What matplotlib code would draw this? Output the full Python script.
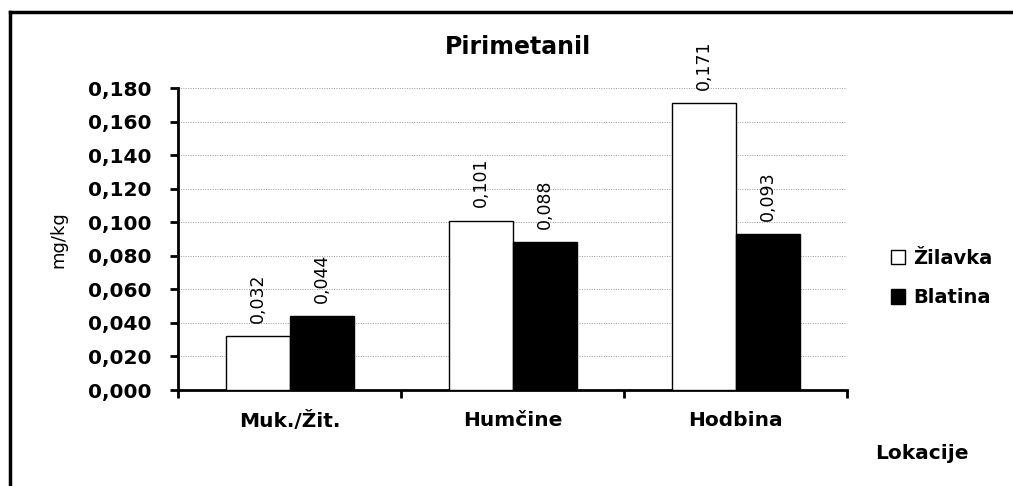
import matplotlib.pyplot as plt
import numpy as np
from matplotlib.lines import Line2D
from matplotlib.ticker import FuncFormatter

plt.rcParams['font.family'] = ['DejaVu Sans']

locations = ['Muk./Žit.', 'Humčine', 'Hodbina']
zilavka = [0.032, 0.101, 0.171]
blatina = [0.044, 0.088, 0.093]
series_names = ['Žilavka', 'Blatina']
yticks = np.arange(0, 0.181, 0.02)

W, H = 1013, 486
fig = plt.figure(figsize=(W / 100, H / 100), dpi=100)
ax = fig.add_axes([178 / W, 1 - 390 / H, (847 - 178) / W, (390 - 88) / H])

x = np.arange(len(locations))
bw = 64 / 223
b1 = ax.bar(x - bw / 2, zilavka, bw, color='white', edgecolor='black', linewidth=1, zorder=3)
b2 = ax.bar(x + bw / 2, blatina, bw, color='black', edgecolor='black', linewidth=1, zorder=3)

for bars, vals in ((b1, zilavka), (b2, blatina)):
    for r, v in zip(bars, vals):
        ax.text(r.get_x() + r.get_width() / 2, v + 0.008, ('%.3f' % v).replace('.', ','),
                rotation=90, ha='center', va='bottom', fontsize=12.5)

ax.set_xlim(-0.5, 2.5)
ax.set_ylim(0, 0.18)
ax.set_yticks(yticks)
ax.yaxis.set_major_formatter(FuncFormatter(lambda v, p: ('%.3f' % v).replace('.', ',')))
ax.set_xticks(x)
ax.set_xticklabels(locations, fontsize=14.5, fontweight='bold')
ax.set_xticks([-0.5, 0.5, 1.5, 2.5], minor=True)
ax.tick_params(axis='x', which='major', length=0, pad=15)
ax.tick_params(axis='x', which='minor', length=6, width=2, direction='out')
ax.tick_params(axis='y', length=6, width=2, direction='out', labelsize=14.5, pad=13)
for lab in ax.get_yticklabels():
    lab.set_fontweight('bold')
ax.grid(axis='y', linestyle=(0, (1, 1.5)), color='#999999', linewidth=0.7, zorder=0)
for s in ['top', 'right']:
    ax.spines[s].set_visible(False)
ax.spines['left'].set_linewidth(2)
ax.spines['bottom'].set_linewidth(2)

fig.text(518 / W, 1 - 47 / H, 'Pirimetanil', ha='center', va='center', fontsize=17, fontweight='bold')
fig.text(58 / W, 1 - 240 / H, 'mg/kg', rotation=90, ha='center', va='center', fontsize=13)
fig.text(922 / W, 1 - 453 / H, 'Lokacije', ha='center', va='center', fontsize=14.5, fontweight='bold')

handles = [plt.Rectangle((0, 0), 1, 1, facecolor='white', edgecolor='black'),
           plt.Rectangle((0, 0), 1, 1, facecolor='black', edgecolor='black')]
leg = fig.legend(handles, series_names, loc='center left', bbox_to_anchor=(873 / W, 1 - 278 / H),
                 frameon=False, handlelength=0.75, handleheight=0.75, handletextpad=0.4,
                 labelspacing=1.05, prop={'size': 14, 'weight': 'bold'})

# outer chart border (left and top only visible)
fig.add_artist(Line2D([10 / W, 10 / W], [0, 1 - 12 / H], color='black', linewidth=2.5))
fig.add_artist(Line2D([10 / W, 1], [1 - 12 / H, 1 - 12 / H], color='black', linewidth=2.5))

fig.savefig('out.png', dpi=100)
